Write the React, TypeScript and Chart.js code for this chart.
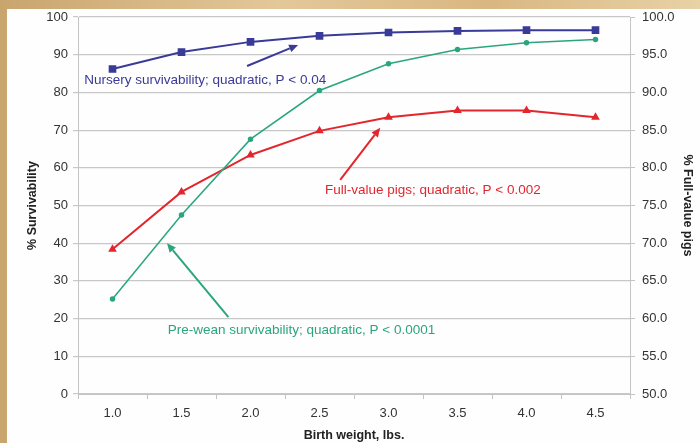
import React, { useEffect, useRef } from "react";
import { Chart, registerables } from "chart.js";

Chart.register(...registerables);

const birthWeights = ["1.0", "1.5", "2.0", "2.5", "3.0", "3.5", "4.0", "4.5"];
const nurserySurvival = [86.2, 90.7, 93.4, 95.0, 95.9, 96.3, 96.5, 96.5];
const preWeanSurvival = [25.2, 47.5, 67.6, 80.5, 87.6, 91.4, 93.2, 94.0];
const fullValuePigs = [69.2, 76.8, 81.7, 84.9, 86.7, 87.6, 87.6, 86.7];
const survivabilityTicks = { min: 0, max: 100, step: 10 };
const fullValueTicks = { min: 50, max: 100, step: 5 };

const BLUE = "#3a3a98";
const RED = "#e3262d";
const GREEN = "#2aa67f";
const FONT = "'Liberation Sans', Arial, sans-serif";

// annotations in data coordinates (x = category index, y = left-axis value)
const notes = [
  { text: "Nursery survivability; quadratic, P < 0.04", color: BLUE, x: -0.41, y: 83.3, tail: [1.95, 87.0], head: [2.69, 92.6] },
  { text: "Full-value pigs; quadratic, P < 0.002", color: RED, x: 3.08, y: 54.1, tail: [3.30, 56.8], head: [3.88, 70.6] },
  { text: "Pre-wean survivability; quadratic, P < 0.0001", color: GREEN, x: 0.8, y: 17.0, tail: [1.68, 20.4], head: [0.79, 40.0] },
];

const annotationPlugin = {
  id: "notes",
  afterDatasetsDraw(chart: any) {
    const { ctx } = chart;
    const xs = chart.scales.x;
    const ys = chart.scales.y;
    ctx.save();
    for (const n of notes) {
      ctx.fillStyle = n.color;
      ctx.strokeStyle = n.color;
      ctx.font = `13.5px ${FONT}`;
      ctx.textAlign = "left";
      ctx.textBaseline = "middle";
      ctx.fillText(n.text, xs.getPixelForValue(n.x), ys.getPixelForValue(n.y));
      const x1 = xs.getPixelForValue(n.tail[0]);
      const y1 = ys.getPixelForValue(n.tail[1]);
      const x2 = xs.getPixelForValue(n.head[0]);
      const y2 = ys.getPixelForValue(n.head[1]);
      const ang = Math.atan2(y2 - y1, x2 - x1);
      const len = 9;
      const hw = 4;
      const bx = x2 - len * Math.cos(ang);
      const by = y2 - len * Math.sin(ang);
      ctx.lineWidth = 2;
      ctx.beginPath();
      ctx.moveTo(x1, y1);
      ctx.lineTo(bx, by);
      ctx.stroke();
      ctx.beginPath();
      ctx.moveTo(x2, y2);
      ctx.lineTo(bx + hw * Math.sin(ang), by - hw * Math.cos(ang));
      ctx.lineTo(bx - hw * Math.sin(ang), by + hw * Math.cos(ang));
      ctx.closePath();
      ctx.fill();
    }
    ctx.restore();
  },
};

export default function App() {
  const ref = useRef<HTMLCanvasElement | null>(null);
  useEffect(() => {
    if (!ref.current) return;
    const chart = new Chart(ref.current, {
      type: "line",
      data: {
        labels: birthWeights,
        datasets: [
          {
            label: "Nursery survivability",
            data: nurserySurvival,
            yAxisID: "y",
            borderColor: BLUE,
            backgroundColor: BLUE,
            borderWidth: 2,
            pointStyle: "rect",
            pointRadius: 4,
            tension: 0,
          },
          {
            label: "Pre-wean survivability",
            data: preWeanSurvival,
            yAxisID: "y",
            borderColor: GREEN,
            backgroundColor: GREEN,
            borderWidth: 1.5,
            pointStyle: "circle",
            pointRadius: 2,
            tension: 0,
          },
          {
            label: "Full-value pigs",
            data: fullValuePigs,
            yAxisID: "y1",
            borderColor: RED,
            backgroundColor: RED,
            borderWidth: 2,
            pointStyle: "triangle",
            pointRadius: 3,
            tension: 0,
          },
        ],
      },
      options: {
        animation: false,
        responsive: false,
        maintainAspectRatio: false,
        layout: { padding: { left: 22, right: 2, top: 17, bottom: 0 } },
        plugins: { legend: { display: false }, tooltip: { enabled: false } },
        scales: {
          x: {
            type: "category",
            offset: true,
            grid: { display: true, drawOnChartArea: false, offset: true, tickLength: 5, color: "#c4c4c4" },
            border: { color: "#c4c4c4" },
            ticks: { color: "#333", font: { family: FONT, size: 13 }, padding: 7, maxRotation: 0 },
            title: { display: true, text: "Birth weight, lbs.", color: "#222", font: { family: FONT, size: 12.5, weight: "bold" }, padding: { top: 0, bottom: 0 } },
            afterFit: (s: any) => { s.height = 49; },
          },
          y: {
            position: "left",
            min: survivabilityTicks.min,
            max: survivabilityTicks.max,
            ticks: { stepSize: survivabilityTicks.step, color: "#333", font: { family: FONT, size: 13 }, padding: 5 },
            grid: { color: "#c8c8c8", tickLength: 5, lineWidth: 1.2 },
            border: { color: "#c4c4c4" },
            title: { display: true, text: "% Survivability", color: "#222", font: { family: FONT, size: 12.5, weight: "bold" }, padding: 3 },
            afterFit: (s: any) => { s.width = 56; },
          },
          y1: {
            position: "right",
            min: fullValueTicks.min,
            max: fullValueTicks.max,
            ticks: { stepSize: fullValueTicks.step, color: "#333", font: { family: FONT, size: 13 }, padding: 7, callback: (v: any) => Number(v).toFixed(1) },
            grid: { drawOnChartArea: false, tickLength: 5, color: "#c4c4c4" },
            border: { color: "#c4c4c4" },
            title: { display: true, text: "% Full-value pigs", color: "#222", font: { family: FONT, size: 12.5, weight: "bold" }, padding: 3 },
            afterFit: (s: any) => { s.width = 68; },
          },
        },
      },
      plugins: [annotationPlugin],
    } as any);
    return () => chart.destroy();
  }, []);

  return (
    <div style={{ position: "fixed", left: 0, top: 0, width: 700, height: 443, background: "linear-gradient(90deg, #c9a56e 0%, #e3c89a 40%, #d9b782 70%, #e8d2a6 100%)", overflow: "hidden" }}>
      <div style={{ position: "absolute", left: 7, top: 9, width: 693, height: 434, background: "#fefefe" }} />
      <canvas ref={ref} width={700} height={443} style={{ position: "absolute", left: 0, top: 0, width: 700, height: 443 }} />
    </div>
  );
}
